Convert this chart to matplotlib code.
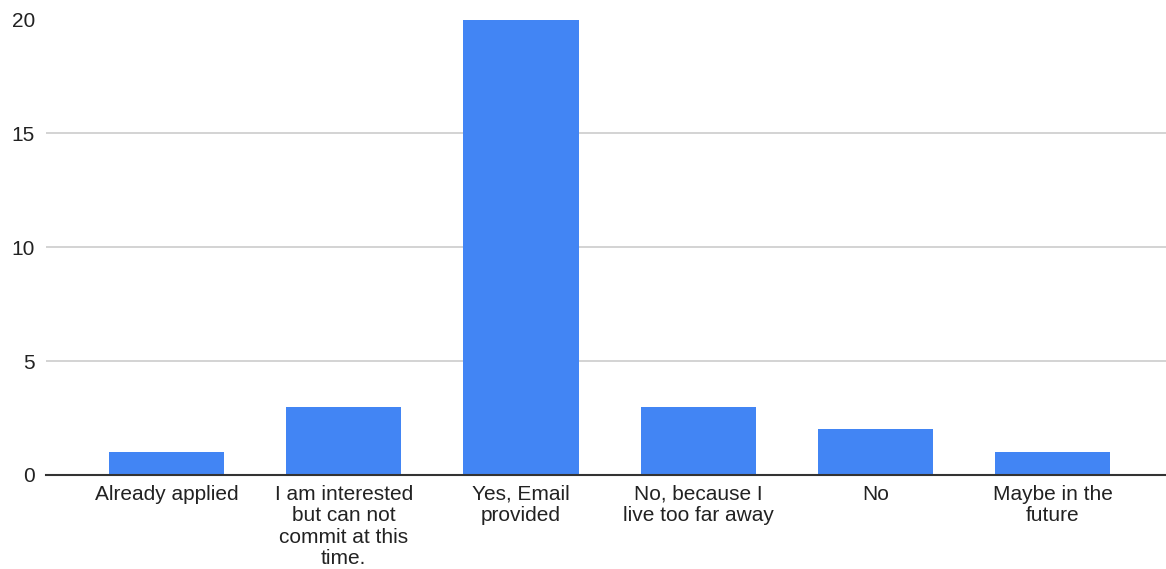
import matplotlib.pyplot as plt

plt.rcParams['font.family'] = ['Liberation Sans', 'DejaVu Sans']

categories = ["Already applied",
              "I am interested\nbut can not\ncommit at this\ntime.",
              "Yes, Email\nprovided",
              "No, because I\nlive too far away",
              "No",
              "Maybe in the\nfuture"]
counts = [1, 3, 20, 3, 2, 1]
y_ticks = [0, 5, 10, 15, 20]

fig = plt.figure(figsize=(11.66, 5.69), dpi=100)
ax = fig.add_axes([46 / 1166, 94 / 569, 1120 / 1166, 455.5 / 569])

x = range(len(categories))
ax.bar(x, counts, width=0.65, color='#4285f4', zorder=3)

ax.set_xlim(-0.68, 5.64)
ax.set_ylim(0, 20)
ax.set_yticks(y_ticks)
ax.set_xticks(list(x))
ax.set_xticklabels(categories, fontsize=15, color='#222222', linespacing=1.17, va='top')
ax.tick_params(axis='y', labelsize=15, labelcolor='#222222', length=0, pad=8)
ax.tick_params(axis='x', length=0, pad=7)

ax.grid(axis='y', color='#cccccc', linewidth=1.2, zorder=0)
for side in ['top', 'right', 'left']:
    ax.spines[side].set_visible(False)
ax.spines['bottom'].set_color('#333333')
ax.spines['bottom'].set_linewidth(1.5)
ax.spines['bottom'].set_zorder(4)

fig.savefig('out.png', dpi=100)
